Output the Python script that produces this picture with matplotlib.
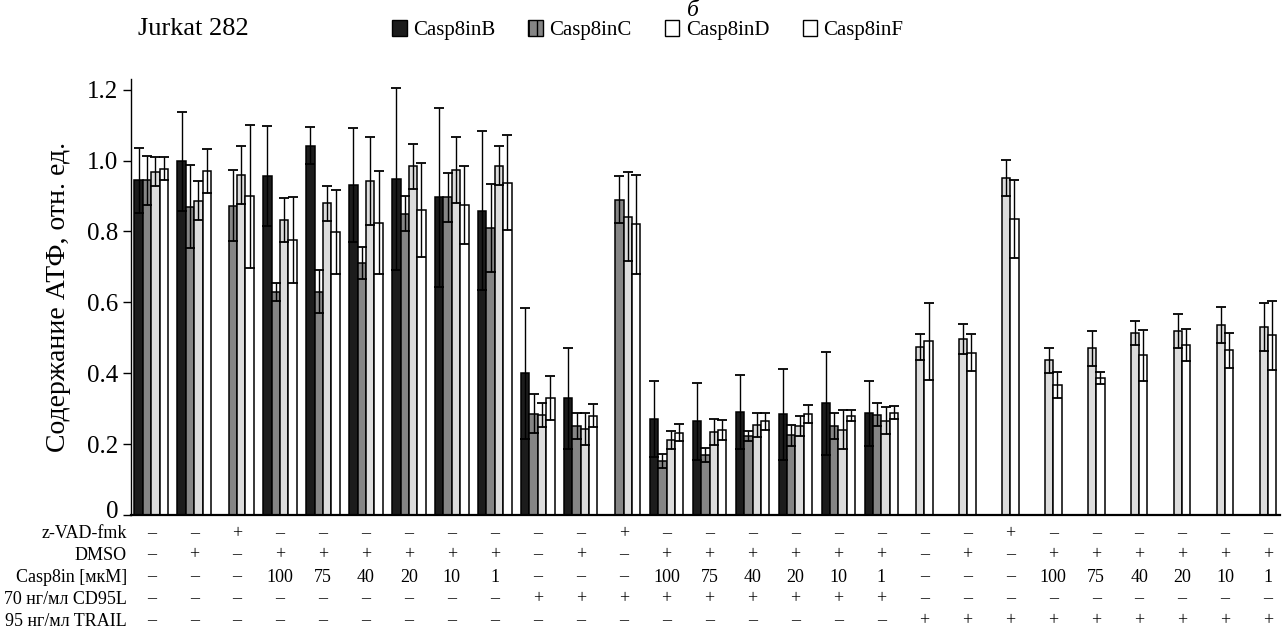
import numpy as np
import matplotlib
matplotlib.use("Agg")
import matplotlib.pyplot as plt
from matplotlib.patches import Patch
from matplotlib.transforms import blended_transform_factory, ScaledTranslation

plt.rcParams['font.family'] = ['Liberation Serif', 'DejaVu Serif']

nan = np.nan
series_names = ["Casp8inB", "Casp8inC", "Casp8inD", "Casp8inF"]

casp8inB = [0.944, 0.998, nan, 0.956, 1.042, 0.930, 0.947, 0.896, 0.859,
            0.400, 0.329, nan, 0.272, 0.264, 0.291, 0.284, 0.315, 0.287,
            nan, nan, nan, nan, nan, nan, nan, nan, nan]
casp8inB_err = [0.092, 0.139, nan, 0.141, 0.053, 0.161, 0.257, 0.252, 0.225,
                0.185, 0.143, nan, 0.107, 0.108, 0.105, 0.129, 0.145, 0.091,
                nan, nan, nan, nan, nan, nan, nan, nan, nan]

casp8inC = [0.944, 0.870, 0.873, 0.630, 0.630, 0.710, 0.850, 0.896, 0.809,
            0.285, 0.251, 0.889, 0.152, 0.170, 0.223, 0.225, 0.251, 0.283,
            nan, nan, nan, nan, nan, nan, nan, nan, nan]
casp8inC_err = [0.069, 0.118, 0.099, 0.025, 0.060, 0.045, 0.050, 0.070, 0.124,
                0.055, 0.038, 0.066, 0.020, 0.020, 0.015, 0.030, 0.038, 0.032,
                nan, nan, nan, nan, nan, nan, nan, nan, nan]

casp8inD = [0.968, 0.887, 0.958, 0.832, 0.879, 0.942, 0.984, 0.974, 0.985,
            0.282, 0.242, 0.842, 0.211, 0.235, 0.254, 0.251, 0.240, 0.266,
            0.474, 0.496, 0.950, 0.436, 0.470, 0.514, 0.519, 0.536, 0.531]
casp8inD_err = [0.041, 0.055, 0.082, 0.062, 0.049, 0.125, 0.064, 0.093, 0.055,
                0.035, 0.045, 0.126, 0.026, 0.037, 0.033, 0.029, 0.055, 0.038,
                0.038, 0.042, 0.051, 0.034, 0.050, 0.034, 0.047, 0.052, 0.067]

casp8inF = [0.977, 0.970, 0.899, 0.776, 0.799, 0.825, 0.860, 0.875, 0.938,
            0.330, 0.280, 0.820, 0.232, 0.239, 0.264, 0.285, 0.280, 0.289,
            0.490, 0.458, 0.835, 0.367, 0.386, 0.450, 0.479, 0.465, 0.507]
casp8inF_err = [0.032, 0.063, 0.201, 0.122, 0.118, 0.145, 0.133, 0.110, 0.133,
                0.063, 0.033, 0.140, 0.024, 0.028, 0.023, 0.026, 0.016, 0.019,
                0.108, 0.052, 0.111, 0.036, 0.017, 0.072, 0.045, 0.049, 0.098]

row_labels = ["z-VAD-fmk", "DMSO", "Casp8in [мкМ]", "70 нг/мл CD95L", "95 нг/мл TRAIL"]
zvad = ["–", "–", "+", "–", "–", "–", "–", "–", "–",
        "–", "–", "+", "–", "–", "–", "–", "–", "–",
        "–", "–", "+", "–", "–", "–", "–", "–", "–"]
dmso = ["–", "+", "–", "+", "+", "+", "+", "+", "+",
        "–", "+", "–", "+", "+", "+", "+", "+", "+",
        "–", "+", "–", "+", "+", "+", "+", "+", "+"]
casp8in_conc = ["–", "–", "–", "100", "75", "40", "20", "10", "1",
                "–", "–", "–", "100", "75", "40", "20", "10", "1",
                "–", "–", "–", "100", "75", "40", "20", "10", "1"]
cd95l = ["–"] * 9 + ["+"] * 9 + ["–"] * 9
trail = ["–"] * 18 + ["+"] * 9

values = [casp8inB, casp8inC, casp8inD, casp8inF]
errors = [casp8inB_err, casp8inC_err, casp8inD_err, casp8inF_err]
colors = ["#1c1c1c", "#858585", "#dcdcdc", "#ffffff"]

W, H = 1285, 639
fig = plt.figure(figsize=(W / 100, H / 100), dpi=100)
ax = fig.add_axes([131 / W, 1 - 515 / H, (1280 - 131) / W, (515 - 79) / H])

n = len(casp8inD)
bw = 0.195
for g in range(n):
    present = [k for k in range(4) if not np.isnan(values[k][g])]
    if len(present) == 2:
        offs = {present[0]: -0.5 * bw, present[1]: 0.5 * bw}
    else:
        offs = {k: (k - 1.5) * bw for k in range(4)}
    for k in present:
        x = g + offs[k]
        ax.bar(x, values[k][g], width=bw, color=colors[k], edgecolor="black",
               linewidth=1.1, zorder=2)
        ax.errorbar(x, values[k][g], yerr=errors[k][g], fmt="none",
                    ecolor="black", elinewidth=1.0, capsize=3.5, capthick=1.3,
                    zorder=3)

ax.set_xlim(-0.47, 26.28)
ax.set_ylim(0, 1.23)
ax.set_yticks([0, 0.2, 0.4, 0.6, 0.8, 1.0, 1.2])
ax.set_yticklabels(["0", "0.2", "0.4", "0.6", "0.8", "1.0", "1.2"])
ax.tick_params(axis="y", direction="out", length=6, width=1.0, labelsize=18, pad=3)
ax.tick_params(axis="x", bottom=False, labelbottom=False)
for s in ["top", "right"]:
    ax.spines[s].set_visible(False)
ax.spines["left"].set_linewidth(1.0)
ax.spines["bottom"].set_linewidth(1.6)
ax.set_ylabel("Содержание АТФ, отн. ед.", fontsize=20, labelpad=12)

# nudge the "0" label up slightly so it clears the first table row
zero_lbl = ax.get_yticklabels()[0]
zero_lbl.set_transform(zero_lbl.get_transform() +
                       ScaledTranslation(0, 4 / 72, fig.dpi_scale_trans))

# condition table under the axis
trans = blended_transform_factory(ax.transData, fig.transFigure)
rows = [zvad, dmso, casp8in_conc, cd95l, trail]
row_y = [534, 555, 577, 599, 621]
for lbl, vals, ypx in zip(row_labels, rows, row_y):
    yf = 1 - ypx / H
    fig.text(127 / W, yf, lbl, ha="right", va="center", fontsize=13)
    for g, v in enumerate(vals):
        ax.text(g, yf, v, ha="center", va="center", fontsize=13,
                transform=trans, clip_on=False)

fig.text(138 / W, 1 - 29 / H, "Jurkat 282", ha="left", va="center", fontsize=19)
fig.text(693 / W, 1 - 10 / H, "б", ha="center", va="center", fontsize=17,
         style="italic")

handles = [Patch(facecolor=colors[0], edgecolor="black"),
           Patch(facecolor=colors[1], edgecolor="black", hatch="||"),
           Patch(facecolor="white", edgecolor="black"),
           Patch(facecolor="white", edgecolor="black")]
fig.legend(handles, series_names, loc="center left",
           bbox_to_anchor=(392 / W, 1 - 30 / H), ncol=4, frameon=False,
           fontsize=15, handlelength=0.7, handleheight=0.8, handletextpad=0.3,
           columnspacing=1.6, borderaxespad=0, borderpad=0)

fig.savefig("out.png", dpi=100)
